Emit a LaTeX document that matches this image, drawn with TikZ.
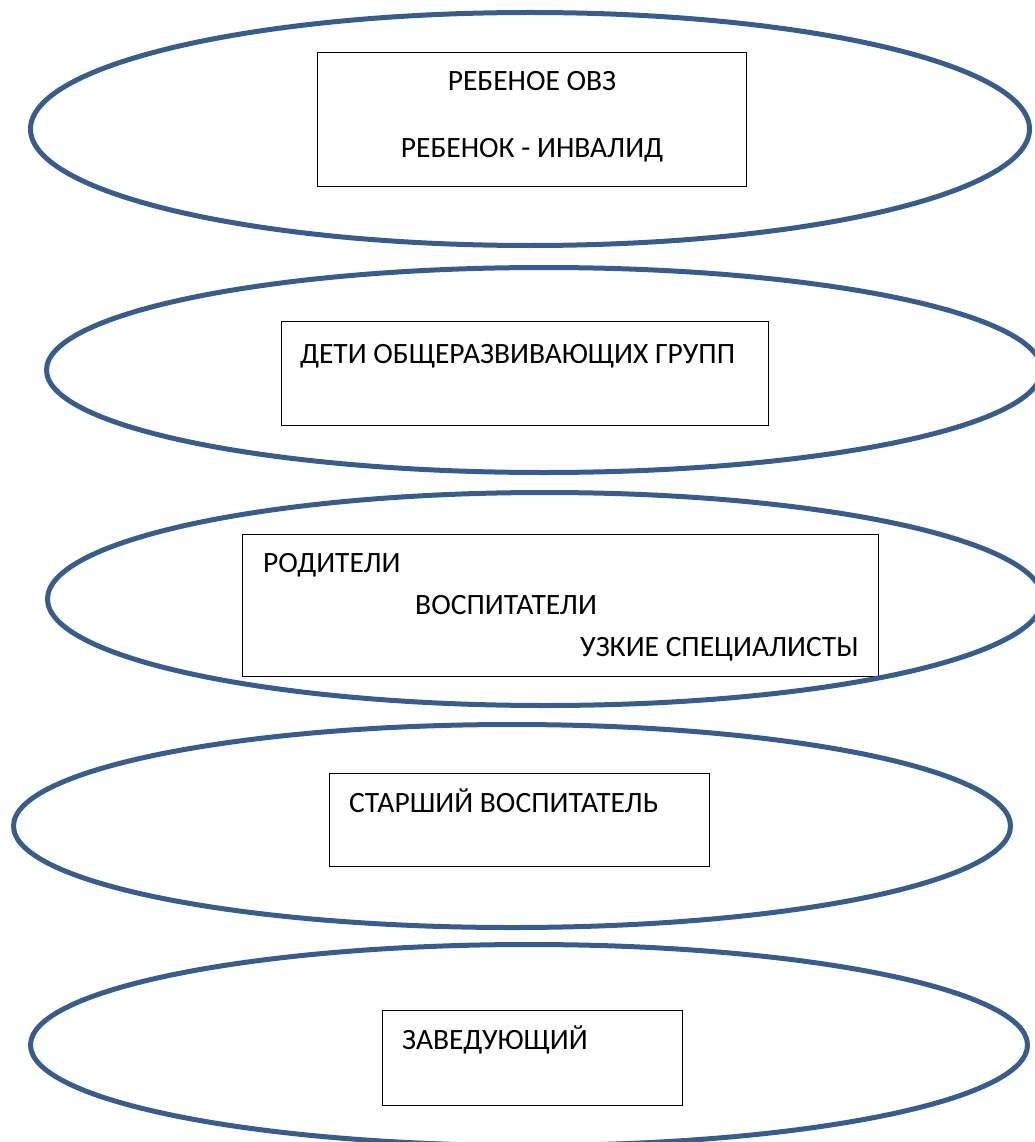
\documentclass[tikz,border=0pt]{standalone}
\usepackage{fontspec}
\setmainfont{Carlito}
\usetikzlibrary{shapes.geometric}
\definecolor{ringblue}{RGB}{56,93,138}

\begin{document}
\begin{tikzpicture}[x=1pt,y=-1pt,
		ring/.style={ellipse, draw=ringblue, line width=5pt, inner sep=0pt},
		box/.style={draw, line width=0.9pt, inner sep=0pt},
		lbl/.style={anchor=base west, inner sep=0pt, font=\fontsize{29.5}{34}\selectfont}]
			\useasboundingbox (0,0) rectangle (1035,1142);
			\clip (0,0) rectangle (1035,1142);
			% boxes
			\node[box, minimum width=429pt, minimum height=134pt] (b1) at (531.5,119) {};
			\node[box, minimum width=487pt, minimum height=104pt] (b2) at (524.5,373) {};
			\node[box, minimum width=636pt, minimum height=142pt] (b3) at (560,605) {};
			\node[box, minimum width=380pt, minimum height=93pt] (b4) at (519,819.5) {};
			\node[box, minimum width=300pt, minimum height=95pt] (b5) at (532,1057.5) {};
			% texts
			\node[lbl, anchor=base] (ovz) at (532,91) {РЕБЕНОЕ ОВЗ};
			\node[lbl, anchor=base] (inv) at (532,158) {РЕБЕНОК - ИНВАЛИД};
			\node[lbl] (deti) at (300,363) {ДЕТИ ОБЩЕРАЗВИВАЮЩИХ ГРУПП};
			\node[lbl] (rod) at (263,572) {РОДИТЕЛИ};
			\node[lbl] (vos) at (415,614) {ВОСПИТАТЕЛИ};
			\node[lbl] (spec) at (580,656) {УЗКИЕ СПЕЦИАЛИСТЫ};
			\node[lbl] (star) at (349,812) {СТАРШИЙ ВОСПИТАТЕЛЬ};
			\node[lbl] (zav) at (402,1049) {ЗАВЕДУЮЩИЙ};
			% rings
			\node[ring, minimum width=999pt, minimum height=233pt] (e1) at (530,129) {};
			\node[ring, minimum width=995pt, minimum height=205pt] (e2) at (544,370) {};
			\node[ring, minimum width=995pt, minimum height=213pt] (e3) at (545,599) {};
			\node[ring, minimum width=997pt, minimum height=203pt] (e4) at (512,826) {};
			\node[ring, minimum width=997pt, minimum height=201pt] (e5) at (529,1045) {};
		\end{tikzpicture}
\end{document}
